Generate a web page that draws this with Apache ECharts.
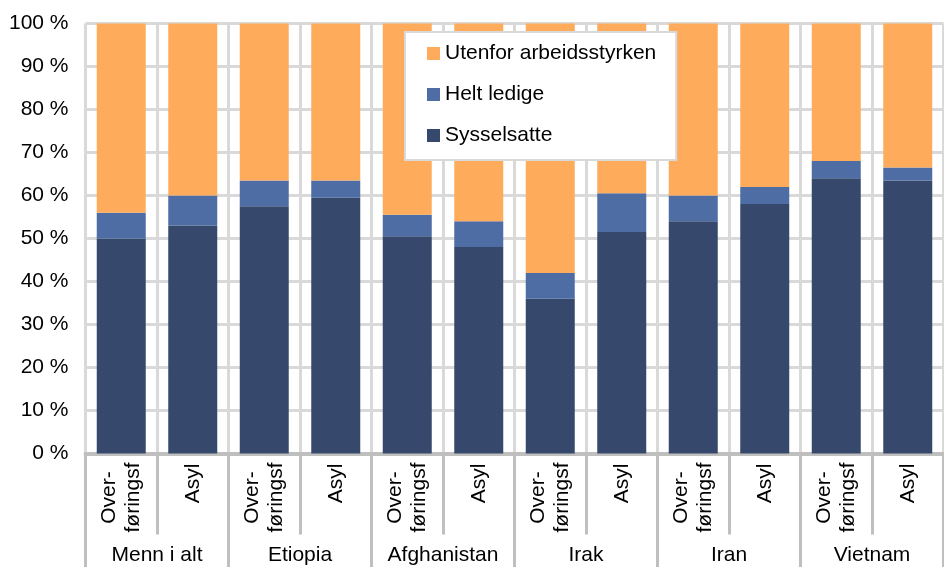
<!DOCTYPE html>
<html>
<head>
<meta charset="utf-8">
<script src="https://cdn.jsdelivr.net/npm/echarts@6/dist/echarts.min.js"></script>
<style>
html,body{margin:0;padding:0;background:#fff;}
#chart{width:944px;height:567px;}
</style>
</head>
<body>
<div id="chart"></div>
<script>
var groups = ['Menn i alt', 'Etiopia', 'Afghanistan', 'Irak', 'Iran', 'Vietnam'];
var subLabels = ['Over-\nføringsf', 'Asyl'];
var categories = [
  'Over-\nføringsf', 'Asyl', 'Over-\nføringsf', 'Asyl', 'Over-\nføringsf', 'Asyl',
  'Over-\nføringsf', 'Asyl', 'Over-\nføringsf', 'Asyl', 'Over-\nføringsf', 'Asyl'
];
var yTicks = [0, 10, 20, 30, 40, 50, 60, 70, 80, 90, 100];
var sysselsatte = [50, 53, 57.5, 59.5, 50.5, 48, 36, 51.5, 54, 58, 64, 63.5];
var heltLedige  = [6, 7, 6, 4, 5, 6, 6, 9, 6, 4, 4, 3];
var utenfor     = [44, 40, 36.5, 36.5, 44.5, 46, 58, 39.5, 40, 38, 32, 33.5];
var seriesNames = ['Sysselsatte', 'Helt ledige', 'Utenfor arbeidsstyrken'];
var colors = ['#36486b', '#4e6da4', '#feab5c'];

var font = 'Arial, "Liberation Sans", sans-serif';
var fs = 21;
var chart = echarts.init(document.getElementById('chart'), null, {renderer: 'canvas'});

function mkSeries(name, data, color) {
  return {
    name: name, type: 'bar', stack: 'total', data: data,
    barWidth: 49, itemStyle: {color: color},
    emphasis: {disabled: true}
  };
}

chart.setOption({
  animation: false,
  color: colors,
  grid: {left: 85.5, right: 0.5, top: 23.5, bottom: 113.5, containLabel: false},
  legend: {
    data: [seriesNames[2], seriesNames[1], seriesNames[0]],
    orient: 'vertical',
    left: 405, top: 32,
    padding: [11, 20, 14, 22],
    itemGap: 20,
    itemWidth: 13, itemHeight: 13,
    icon: 'rect',
    backgroundColor: '#ffffff',
    borderColor: '#d9d9d9', borderWidth: 2,
    textStyle: {fontFamily: font, fontSize: fs, color: '#000', lineHeight: 21},
    selectedMode: false
  },
  xAxis: [{
    type: 'category',
    data: categories,
    position: 'bottom',
    axisLine: {show: true, lineStyle: {color: '#bfbfbf', width: 4}},
    axisTick: {show: true, interval: 0, length: 81, lineStyle: {color: '#bfbfbf', width: 3}},
    splitLine: {show: true, interval: 0, lineStyle: {color: '#d9d9d9', width: 3}},
    axisLabel: {
      interval: 0, rotate: 90, margin: 10,
      fontFamily: font, fontSize: fs, color: '#000',
      formatter: function (v) {
        if (v.indexOf('\n') >= 0) {
          return v.split('\n').map(function (s) { return '{a|' + s + '}'; }).join('\n');
        }
        return '{b|' + v + '}';
      },
      rich: {
        a: {fontFamily: font, fontSize: fs, color: '#000', width: 68, align: 'center', lineHeight: 24},
        b: {fontFamily: font, fontSize: fs, color: '#000', lineHeight: 24}
      }
    }
  }, {
    type: 'category',
    data: groups,
    position: 'bottom',
    axisLine: {show: false},
    axisTick: {show: true, interval: 0, length: 114, lineStyle: {color: '#bfbfbf', width: 3}},
    splitLine: {show: false},
    axisLabel: {interval: 0, margin: 91, fontFamily: font, fontSize: fs, color: '#000'}
  }],
  yAxis: {
    type: 'value',
    min: 0, max: 100, interval: 10,
    axisLine: {show: false},
    axisTick: {show: false},
    splitLine: {show: true, lineStyle: {color: '#d9d9d9', width: 3}},
    axisLabel: {
      margin: 17, fontFamily: font, fontSize: fs, color: '#000',
      formatter: function (v) { return yTicks.indexOf(v) >= 0 ? v + ' %' : ''; }
    }
  },
  series: [
    mkSeries(seriesNames[0], sysselsatte, colors[0]),
    mkSeries(seriesNames[1], heltLedige, colors[1]),
    mkSeries(seriesNames[2], utenfor, colors[2])
  ]
});
</script>
</body>
</html>
